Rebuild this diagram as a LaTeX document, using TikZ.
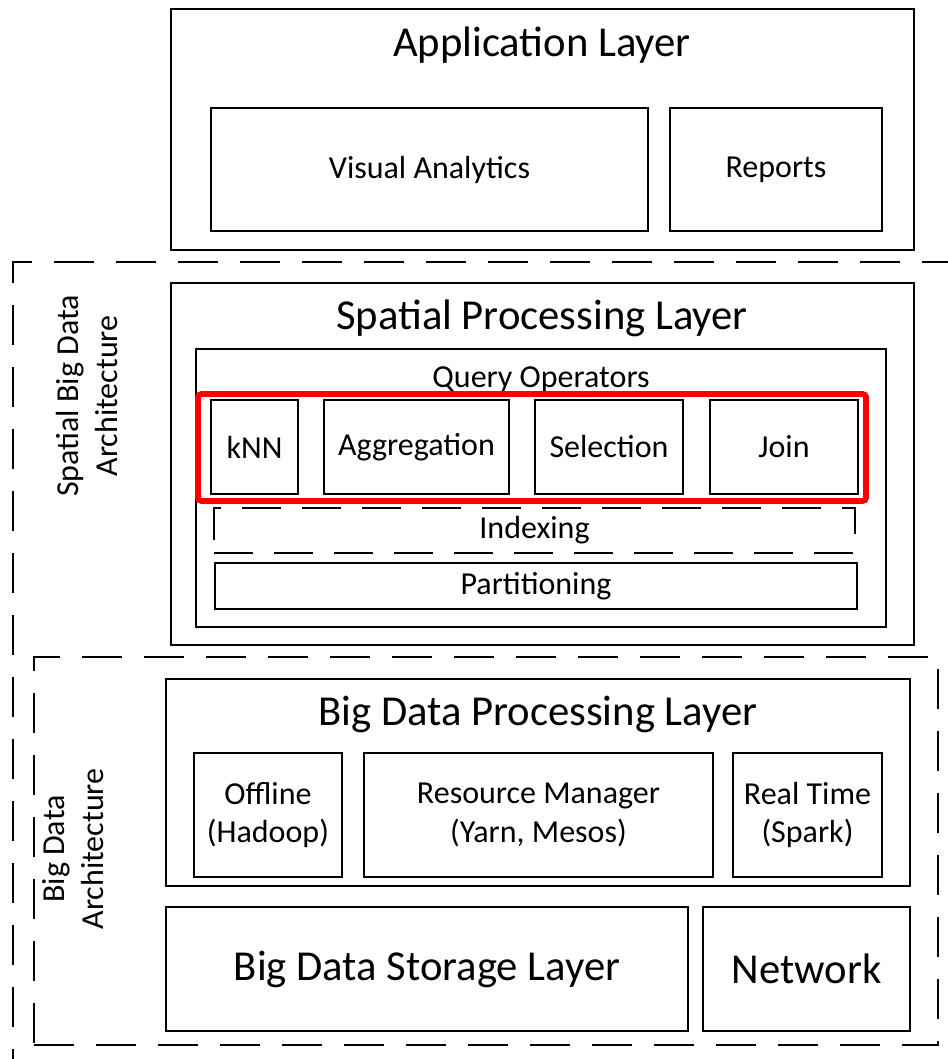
\documentclass[tikz,border=0pt]{standalone}
\usepackage{fontspec}
\setmainfont{Carlito}
% \bx{style}{x1}{y1}{x2}{y2}{name} {text};  -- box given by its corners in px
\newcommand\bx[6]{\node[#1, minimum width={(#4-#2)*0.75pt}, minimum height={(#5-#3)*0.75pt}] (#6) at ({(#2+#4)/2},{(#3+#5)/2})}
\begin{document}
\begin{tikzpicture}[x=0.75pt,y=-0.75pt,
  box/.style={draw=black, line width=1.6pt, inner sep=0pt, outer sep=0pt, align=center},
  dashbox/.style={draw=black, line width=1.8pt, dash pattern=on 30pt off 16.5pt, inner sep=0pt},
  idxbox/.style={draw=black, line width=1.6pt, dash pattern=on 29pt off 16pt, inner sep=0pt},
  redbox/.style={draw=red, line width=4.3pt, rounded corners=2.5pt, inner sep=0pt},
  big/.style={font=\fontsize{32}{38}\selectfont},
  mid/.style={font=\fontsize{24}{29}\selectfont, align=center},
  lbl/.style={inner sep=0pt}
]
\useasboundingbox (0,0) rectangle (947,1059);

% Outer architecture frames
\bx{dashbox}{13}{262}{975}{1085}{sbda} {};
\bx{dashbox}{34}{657}{938}{1045}{bda} {};
\node[mid, lbl, rotate=90] (sbdalbl) at (87,396) {Spatial Big Data\\Architecture};
\node[mid, lbl, rotate=90] (bdalbl) at (73,849) {Big Data\\Architecture};

% Application layer
\bx{box, fill=white}{171}{9}{914}{250}{app} {};
\node[big, lbl] (apptitle) at (542,45) {Application Layer};
\bx{box, mid}{211}{108}{648}{231}{va} {Visual Analytics};
\bx{box, mid}{670}{108}{882}{231}{rep} {Reports};

% Spatial processing layer
\bx{box, fill=white}{171}{283}{914}{645}{spl} {};
\node[big, lbl] (spltitle) at (542,318) {Spatial Processing Layer};
\bx{box}{196}{349}{886}{627}{qo} {};
\node[mid, lbl] (qotitle) at (541,380) {Query Operators};
\bx{box, mid}{211}{400}{298}{494}{knn} {kNN};
\bx{box, mid}{324}{400}{509}{494}{agg} {Aggregation};
\bx{box, mid}{535}{400}{683}{494}{sel} {Selection};
\bx{box, mid}{710}{400}{858}{494}{join} {Join};
\bx{redbox}{198}{394}{866}{501}{ops} {};
\bx{idxbox, mid}{214}{508}{855}{553}{idx} {Indexing};
\bx{box, mid}{215}{563}{857}{609}{part} {Partitioning};

% Big data processing layer
\bx{box}{166}{679}{910}{886}{bdpl} {};
\node[big, lbl] (bdpltitle) at (538,714) {Big Data Processing Layer};
\bx{box, mid}{194}{753}{342}{877}{off} {Offline\\(Hadoop)};
\bx{box, mid}{364}{753}{713}{877}{rm} {Resource Manager\\(Yarn, Mesos)};
\bx{box, mid}{733}{753}{882}{877}{rt} {Real Time\\(Spark)};

% Storage and network
\bx{box, big}{166}{907}{688}{1031}{store} {Big Data Storage Layer};
\bx{box, big}{703}{907}{910}{1031}{net} {Network};
\end{tikzpicture}
\end{document}
